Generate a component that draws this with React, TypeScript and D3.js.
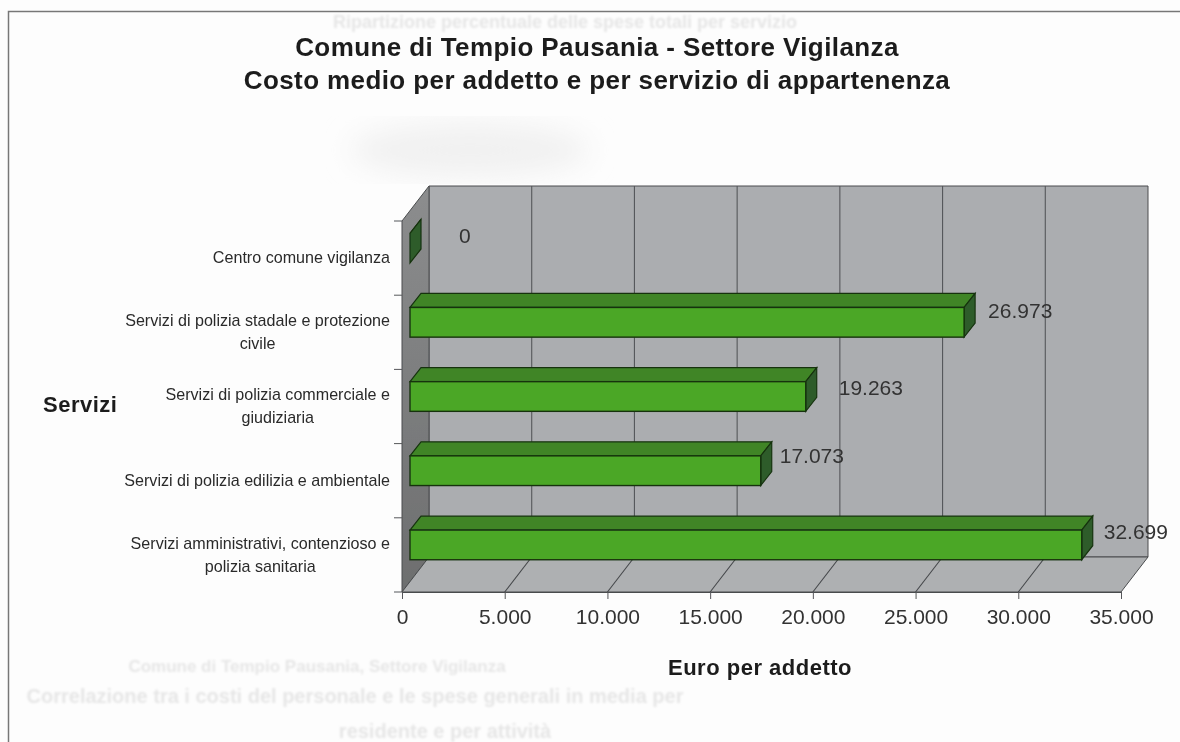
import React, { useRef, useEffect } from 'react';
import * as d3 from 'd3';

const categories = [
  'Centro comune vigilanza',
  'Servizi di polizia stadale e protezione\ncivile',
  'Servizi di polizia commerciale e\ngiudiziaria',
  'Servizi di polizia edilizia e ambientale',
  'Servizi amministrativi, contenzioso e\npolizia sanitaria',
];
const values = [0, 26973, 19263, 17073, 32699];
const ticks = [0, 5000, 10000, 15000, 20000, 25000, 30000, 35000];
const titleLines = [
  'Comune di Tempio Pausania - Settore Vigilanza',
  'Costo medio per addetto e per servizio di appartenenza',
];
// the value labels sit a bit off in the original, one nudge per bar
const labelNudgeX = [49, 24, 33, 19, 22];
const labelNudgeY = [-12, -12, -9, -15, -13];

const FONT = '"Liberation Sans", Arial, sans-serif';

const App = () => {
  const ref = useRef<SVGSVGElement | null>(null);

  useEffect(() => {
    if (!ref.current) return;
    const svg = d3.select(ref.current);
    svg.selectAll('*').remove();

    const defs = svg.append('defs');
    defs.append('filter').attr('id', 'soft').append('feGaussianBlur').attr('stdDeviation', 0.55);
    defs.append('filter').attr('id', 'ghost').append('feGaussianBlur').attr('stdDeviation', 1.3);
    defs.append('filter').attr('id', 'blob').append('feGaussianBlur').attr('stdDeviation', 14);
    const wallGrad = defs.append('linearGradient').attr('id', 'leftWall')
      .attr('x1', 0).attr('x2', 0).attr('y1', 0).attr('y2', 1);
    wallGrad.append('stop').attr('offset', '0%').attr('stop-color', '#8c8d8e');
    wallGrad.append('stop').attr('offset', '100%').attr('stop-color', '#6d6e6f');

    svg.append('rect').attr('width', 1180).attr('height', 742).attr('fill', '#fdfdfd');

    // show-through from the back of the scanned page
    const ghost = svg.append('g').attr('filter', 'url(#ghost)').attr('fill', '#e6e6e6')
      .attr('font-family', FONT).attr('text-anchor', 'middle').attr('font-weight', 'bold');
    ghost.append('text').attr('x', 565).attr('y', 28).attr('font-size', 18)
      .text('Ripartizione percentuale delle spese totali per servizio');
    ghost.append('text').attr('x', 317).attr('y', 672).attr('font-size', 17)
      .text('Comune di Tempio Pausania, Settore Vigilanza');
    ghost.append('text').attr('x', 355).attr('y', 703).attr('font-size', 20)
      .text('Correlazione tra i costi del personale e le spese generali in media per');
    ghost.append('text').attr('x', 445).attr('y', 738).attr('font-size', 20)
      .text('residente e per attività');
    svg.append('ellipse').attr('cx', 470).attr('cy', 150).attr('rx', 120).attr('ry', 28)
      .attr('fill', '#f1f1f1').attr('filter', 'url(#blob)');

    const g = svg.append('g').attr('filter', 'url(#soft)');

    g.append('path').attr('d', 'M8.5 742V11.5H1180').attr('fill', 'none')
      .attr('stroke', '#777').attr('stroke-width', 1.5);

    // front of the floor, the bars' plane and the back wall are the same scale shifted
    const x = d3.scaleLinear().domain([0, 35000]).range([402, 1121]);
    const y = d3.scaleBand().domain(categories).range([221, 592]).paddingInner(0.6).paddingOuter(0.3);
    const step = y.step();
    const floorY = 592;
    const topY = 221;
    const depth = { dx: 27, dy: -35 };
    const barShift = { dx: 8, dy: -10 };
    const barDepth = { dx: 11, dy: -14 };
    const fmt = d3.formatLocale({ decimal: ',', thousands: '.', grouping: [3], currency: ['', ''] }).format(',d');

    const poly = (pts: number[][]) => d3.line()(pts as [number, number][]) + 'Z';
    const edge = '#4a4c4e';

    // back wall, left wall, floor
    g.append('path')
      .attr('d', poly([[x(0) + depth.dx, topY + depth.dy], [x(35000) + depth.dx, topY + depth.dy],
        [x(35000) + depth.dx, floorY + depth.dy], [x(0) + depth.dx, floorY + depth.dy]]))
      .attr('fill', '#abadb0').attr('stroke', edge);
    g.append('path')
      .attr('d', poly([[x(0), topY], [x(0) + depth.dx, topY + depth.dy],
        [x(0) + depth.dx, floorY + depth.dy], [x(0), floorY]]))
      .attr('fill', 'url(#leftWall)').attr('stroke', edge);
    g.append('path')
      .attr('d', poly([[x(0), floorY], [x(0) + depth.dx, floorY + depth.dy],
        [x(35000) + depth.dx, floorY + depth.dy], [x(35000), floorY]]))
      .attr('fill', '#aeb0b2').attr('stroke', edge);

    // grid on the wall and on the floor
    const inner = ticks.slice(1, -1);
    g.selectAll('line.wall').data(inner).enter().append('line').attr('class', 'wall')
      .attr('x1', d => x(d) + depth.dx).attr('x2', d => x(d) + depth.dx)
      .attr('y1', topY + depth.dy).attr('y2', floorY + depth.dy)
      .attr('stroke', '#55575a').attr('stroke-width', 1.1);
    g.selectAll('line.floor').data(inner).enter().append('line').attr('class', 'floor')
      .attr('x1', d => x(d)).attr('x2', d => x(d) + depth.dx)
      .attr('y1', floorY).attr('y2', floorY + depth.dy)
      .attr('stroke', '#45474a').attr('stroke-width', 1.1);

    // X axis
    const axis = g.append('g').attr('transform', `translate(0,${floorY})`)
      .call(d3.axisBottom(x).tickValues(ticks).tickFormat(d => fmt(d as number)).tickSize(7).tickSizeOuter(0).tickPadding(10));
    axis.select('.domain').attr('stroke', edge);
    axis.selectAll('.tick line').attr('stroke', '#55575a');
    axis.selectAll('text').attr('font-family', FONT).attr('font-size', 21).attr('fill', '#333');

    // Y axis ticks on the left wall
    g.selectAll('line.ytick').data(d3.range(categories.length + 1)).enter().append('line').attr('class', 'ytick')
      .attr('x1', x(0) - 8).attr('x2', x(0))
      .attr('y1', i => topY + i * step).attr('y2', i => topY + i * step)
      .attr('stroke', '#55575a');

    // category labels: first line flush right, second line centred under it
    categories.forEach(c => {
      const lines = c.split('\n');
      const cy = (y(c) as number) + y.bandwidth() / 2 - 0.5;
      const t0 = g.append('text').attr('font-family', FONT).attr('font-size', 16.1).attr('fill', '#2a2a2a')
        .attr('text-anchor', 'end').attr('x', 390)
        .attr('y', cy - (lines.length - 1) * 11.5).attr('dy', '0.35em').text(lines[0]);
      if (lines[1]) {
        const w = (t0.node() as SVGTextElement).getComputedTextLength();
        g.append('text').attr('font-family', FONT).attr('font-size', 16.1).attr('fill', '#2a2a2a')
          .attr('text-anchor', 'middle').attr('x', 390 - w / 2)
          .attr('y', cy + 11.5).attr('dy', '0.35em').text(lines[1]);
      }
    });

    // 3D bars: top, side, front
    const bars = g.selectAll('g.bar').data(categories).enter().append('g').attr('class', 'bar');
    const stroke = '#17330f';
    const x0 = (i: number) => x(0) + barShift.dx;
    const x1 = (i: number) => x(values[i]) + barShift.dx;
    const y0 = (c: string) => (y(c) as number) + barShift.dy;
    const h = y.bandwidth();
    bars.append('path')
      .attr('d', (c, i) => poly([[x0(i), y0(c)], [x0(i) + barDepth.dx, y0(c) + barDepth.dy],
        [x1(i) + barDepth.dx, y0(c) + barDepth.dy], [x1(i), y0(c)]]))
      .attr('fill', '#3f8528').attr('stroke', stroke).attr('stroke-width', 1.2);
    bars.append('path')
      .attr('d', (c, i) => poly([[x1(i), y0(c)], [x1(i) + barDepth.dx, y0(c) + barDepth.dy],
        [x1(i) + barDepth.dx, y0(c) + barDepth.dy + h], [x1(i), y0(c) + h]]))
      .attr('fill', '#2f5c2b').attr('stroke', stroke).attr('stroke-width', 1.2);
    bars.append('rect')
      .attr('x', (c, i) => x0(i)).attr('y', c => y0(c))
      .attr('width', (c, i) => x1(i) - x0(i)).attr('height', h)
      .attr('fill', '#4ca726').attr('stroke', stroke).attr('stroke-width', 1.4);

    // value labels
    g.selectAll('text.value').data(values).enter().append('text').attr('class', 'value')
      .attr('x', (d, i) => x(d) + barShift.dx + labelNudgeX[i])
      .attr('y', (d, i) => y0(categories[i]) + h / 2 + labelNudgeY[i])
      .attr('dy', '0.35em')
      .attr('font-family', FONT).attr('font-size', 21).attr('fill', '#333')
      .text(d => fmt(d));

    // titles
    g.selectAll('text.title').data(titleLines).enter().append('text').attr('class', 'title')
      .attr('x', 597).attr('y', (d, i) => 56 + i * 33)
      .attr('text-anchor', 'middle')
      .attr('font-family', FONT).attr('font-weight', 'bold').attr('font-size', 26)
      .attr('letter-spacing', 0.4).attr('fill', '#1c1c1c')
      .text(d => d);

    g.append('text').attr('x', 43).attr('y', 412)
      .attr('font-family', FONT).attr('font-weight', 'bold').attr('font-size', 22)
      .attr('letter-spacing', 0.5).attr('fill', '#1c1c1c')
      .text('Servizi');
    g.append('text').attr('x', 760).attr('y', 675).attr('text-anchor', 'middle')
      .attr('font-family', FONT).attr('font-weight', 'bold').attr('font-size', 22)
      .attr('letter-spacing', 0.5).attr('fill', '#1c1c1c')
      .text('Euro per addetto');
  }, []);

  return (
    <svg
      ref={ref}
      width={1180}
      height={742}
      style={{ position: 'absolute', left: 0, top: 0, display: 'block' }}
    />
  );
};

export default App;
